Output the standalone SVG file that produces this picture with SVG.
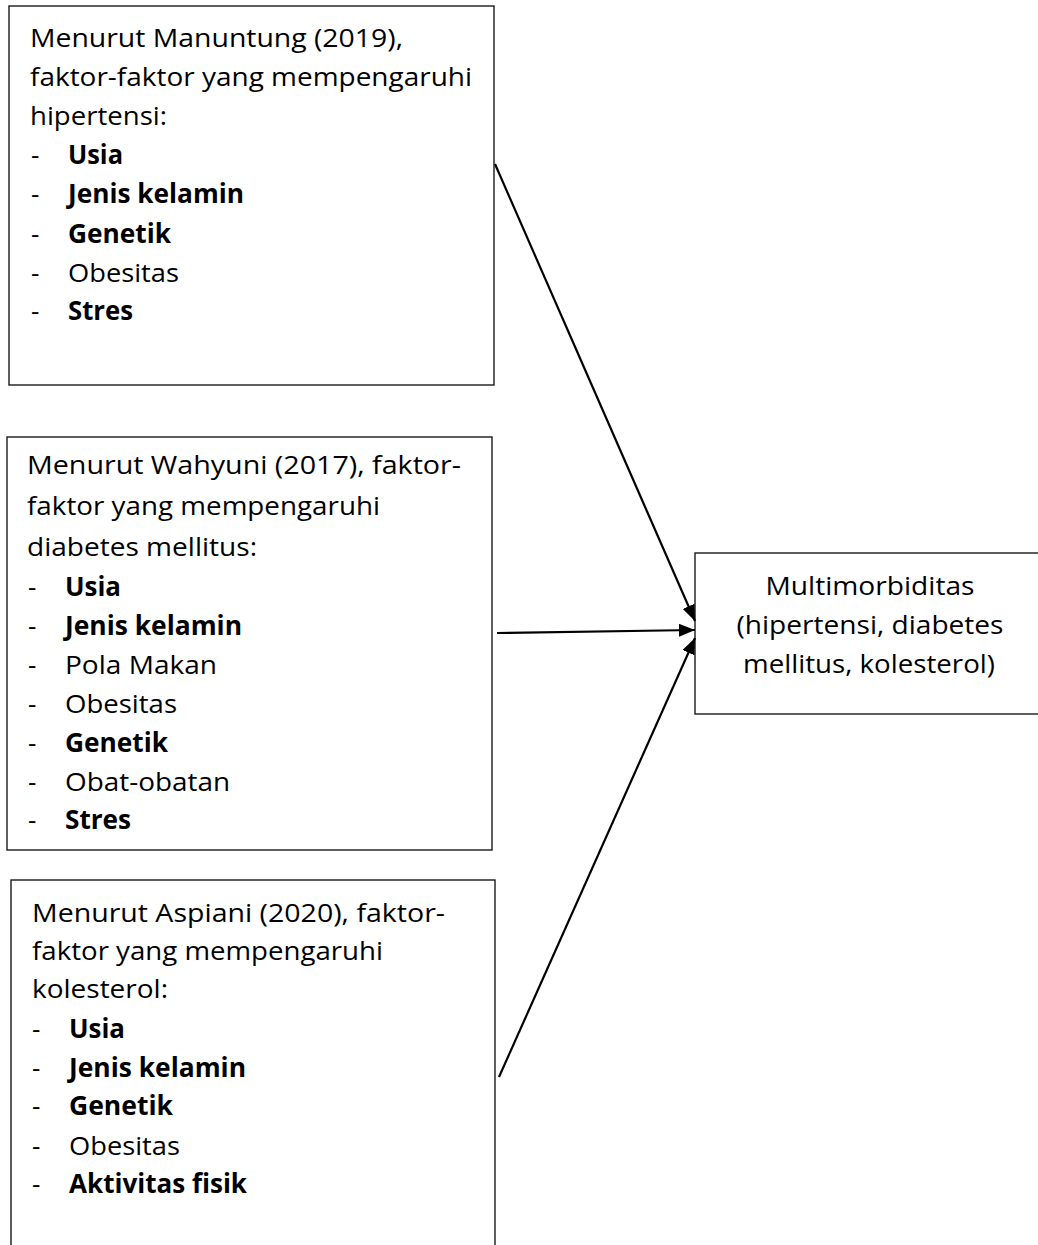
<svg xmlns="http://www.w3.org/2000/svg" width="1038" height="1245" viewBox="0 0 1038 1245">
<style>
.box{fill:#fff;stroke:#1a1a1a;stroke-width:1.4}
text{font-family:"Open Sans","Noto Sans","Liberation Sans",sans-serif;font-size:26px;fill:#000}
.b{font-weight:bold}
.c{text-anchor:middle}
.edge{stroke:#000;stroke-width:2.2;fill:none}
</style>
<defs>
<marker id="ah" markerWidth="16" markerHeight="13" refX="16" refY="6.5" orient="auto" markerUnits="userSpaceOnUse">
<path d="M0,0 L16,6.5 L0,13 Z" fill="#000"/>
</marker>
</defs>
<rect width="1038" height="1245" fill="#fff"/>
<g id="box-hipertensi">
<rect class="box" x="9" y="6" width="485" height="379"/>
<text x="30" y="47" textLength="373" lengthAdjust="spacingAndGlyphs">Menurut Manuntung (2019),</text>
<text x="30" y="86" textLength="442" lengthAdjust="spacingAndGlyphs">faktor-faktor yang mempengaruhi</text>
<text x="30" y="125" textLength="137" lengthAdjust="spacingAndGlyphs">hipertensi:</text>
<text x="31" y="164">-</text><text class="b" x="68" y="164" textLength="55" lengthAdjust="spacingAndGlyphs">Usia</text>
<text x="31" y="203">-</text><text class="b" x="68" y="203" textLength="176" lengthAdjust="spacingAndGlyphs">Jenis kelamin</text>
<text x="31" y="243">-</text><text class="b" x="68" y="243" textLength="103" lengthAdjust="spacingAndGlyphs">Genetik</text>
<text x="31" y="282">-</text><text x="68" y="282" textLength="111" lengthAdjust="spacingAndGlyphs">Obesitas</text>
<text x="31" y="320">-</text><text class="b" x="68" y="320" textLength="65" lengthAdjust="spacingAndGlyphs">Stres</text>
</g>
<g id="box-diabetes">
<rect class="box" x="7" y="437" width="485" height="413"/>
<text x="27" y="474" textLength="434" lengthAdjust="spacingAndGlyphs">Menurut Wahyuni (2017), faktor-</text>
<text x="27" y="515" textLength="353" lengthAdjust="spacingAndGlyphs">faktor yang mempengaruhi</text>
<text x="27" y="556" textLength="230" lengthAdjust="spacingAndGlyphs">diabetes mellitus:</text>
<text x="28" y="596">-</text><text class="b" x="65" y="596" textLength="56" lengthAdjust="spacingAndGlyphs">Usia</text>
<text x="28" y="635">-</text><text class="b" x="65" y="635" textLength="177" lengthAdjust="spacingAndGlyphs">Jenis kelamin</text>
<text x="28" y="674">-</text><text x="65" y="674" textLength="152" lengthAdjust="spacingAndGlyphs">Pola Makan</text>
<text x="28" y="713">-</text><text x="65" y="713" textLength="112" lengthAdjust="spacingAndGlyphs">Obesitas</text>
<text x="28" y="752">-</text><text class="b" x="65" y="752" textLength="103" lengthAdjust="spacingAndGlyphs">Genetik</text>
<text x="28" y="791">-</text><text x="65" y="791" textLength="165" lengthAdjust="spacingAndGlyphs">Obat-obatan</text>
<text x="28" y="829">-</text><text class="b" x="65" y="829" textLength="66" lengthAdjust="spacingAndGlyphs">Stres</text>
</g>
<g id="box-kolesterol">
<rect class="box" x="11" y="880" width="484" height="380"/>
<text x="32" y="922" textLength="413" lengthAdjust="spacingAndGlyphs">Menurut Aspiani (2020), faktor-</text>
<text x="32" y="960" textLength="351" lengthAdjust="spacingAndGlyphs">faktor yang mempengaruhi</text>
<text x="32" y="998" textLength="136" lengthAdjust="spacingAndGlyphs">kolesterol:</text>
<text x="32" y="1038">-</text><text class="b" x="69" y="1038" textLength="56" lengthAdjust="spacingAndGlyphs">Usia</text>
<text x="32" y="1077">-</text><text class="b" x="69" y="1077" textLength="177" lengthAdjust="spacingAndGlyphs">Jenis kelamin</text>
<text x="32" y="1115">-</text><text class="b" x="69" y="1115" textLength="104" lengthAdjust="spacingAndGlyphs">Genetik</text>
<text x="32" y="1155">-</text><text x="69" y="1155" textLength="111" lengthAdjust="spacingAndGlyphs">Obesitas</text>
<text x="32" y="1193">-</text><text class="b" x="69" y="1193" textLength="178" lengthAdjust="spacingAndGlyphs">Aktivitas fisik</text>
</g>
<g id="box-multimorbiditas">
<rect class="box" x="695" y="553" width="350" height="161"/>
<text class="c" x="870" y="595" textLength="209" lengthAdjust="spacingAndGlyphs">Multimorbiditas</text>
<text class="c" x="870" y="634" textLength="267" lengthAdjust="spacingAndGlyphs">(hipertensi, diabetes</text>
<text class="c" x="869" y="673" textLength="252" lengthAdjust="spacingAndGlyphs">mellitus, kolesterol)</text>
</g>
<g id="connectors">
<line class="edge" x1="495" y1="164" x2="695" y2="621" marker-end="url(#ah)"/>
<line class="edge" x1="497" y1="633" x2="695" y2="630" marker-end="url(#ah)"/>
<line class="edge" x1="499" y1="1077" x2="695" y2="638" marker-end="url(#ah)"/>
</g>
</svg>
